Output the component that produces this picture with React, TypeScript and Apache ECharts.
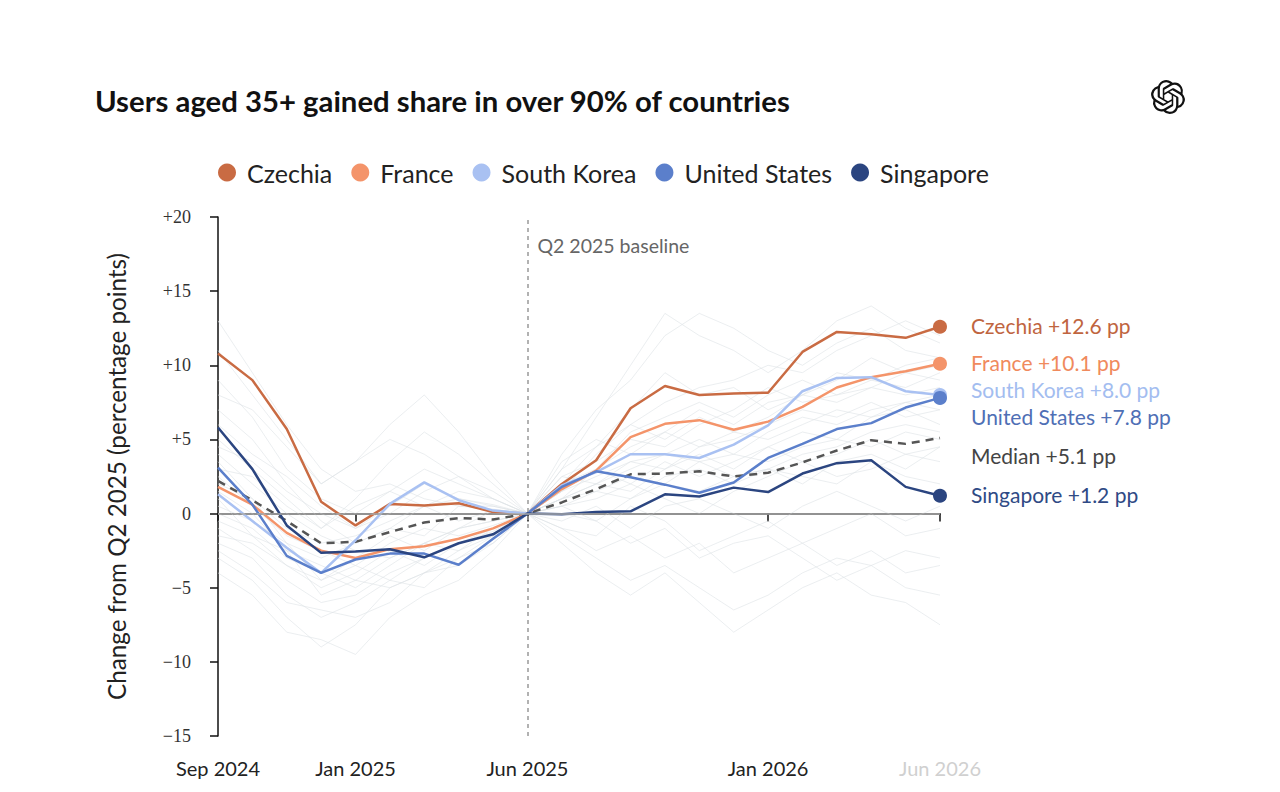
import { useEffect, useRef } from 'react';
import * as echarts from 'echarts';

const months = [
  'Sep 2024', 'Oct 2024', 'Nov 2024', 'Dec 2024', 'Jan 2025', 'Feb 2025', 'Mar 2025', 'Apr 2025',
  'May 2025', 'Jun 2025', 'Jul 2025', 'Aug 2025', 'Sep 2025', 'Oct 2025', 'Nov 2025', 'Dec 2025',
  'Jan 2026', 'Feb 2026', 'Mar 2026', 'Apr 2026', 'May 2026', 'Jun 2026',
];
const shownMonths = ['Sep 2024', 'Jan 2025', 'Jun 2025', 'Jan 2026', 'Jun 2026'];
const baselineMonth = 'Jun 2025';

const czechia = [10.8, 9.0, 5.7, 0.8, -0.8, 0.65, 0.55, 0.7, 0.1, 0, 2.0, 3.6, 7.1, 8.6, 8.0, 8.1, 8.15, 10.9, 12.25, 12.1, 11.85, 12.6];
const france = [1.8, 0.6, -1.3, -2.5, -3.0, -2.4, -2.2, -1.7, -1.0, 0, 1.65, 2.9, 5.15, 6.05, 6.3, 5.65, 6.2, 7.2, 8.5, 9.2, 9.6, 10.1];
const southKorea = [1.3, -0.5, -2.3, -4.0, -1.8, 0.65, 2.1, 0.9, 0.2, 0, 1.9, 2.8, 4.0, 4.0, 3.75, 4.65, 5.95, 8.25, 9.15, 9.2, 8.25, 8.0];
const unitedStates = [3.1, 0.6, -2.85, -4.0, -3.1, -2.7, -2.7, -3.45, -1.7, 0, 1.8, 2.85, 2.45, 1.95, 1.4, 2.1, 3.75, 4.7, 5.7, 6.1, 7.15, 7.8];
const singapore = [5.8, 3.0, -0.8, -2.65, -2.55, -2.4, -2.95, -2.0, -1.4, 0, -0.05, 0.1, 0.15, 1.3, 1.15, 1.75, 1.45, 2.7, 3.4, 3.6, 1.8, 1.2];
const median = [2.2, 0.9, -0.5, -2.0, -1.9, -1.25, -0.6, -0.3, -0.4, 0, 0.75, 1.65, 2.65, 2.7, 2.85, 2.5, 2.75, 3.45, 4.25, 4.95, 4.7, 5.1];

const otherCountries = [
  [13.0, 9.5, 6.0, 3.0, 1.5, 2.0, 1.0, 0.5, 0.3, 0, 3.0, 6.5, 10.0, 13.5, 12.0, 11.0, 9.5, 11.0, 13.0, 14.0, 12.5, 11.5],
  [8.0, 7.0, 4.5, 2.0, 3.5, 5.0, 4.0, 2.5, 1.0, 0, 1.5, 4.0, 6.0, 7.5, 8.5, 9.0, 10.0, 9.5, 11.0, 12.0, 13.0, 12.0],
  [5.0, 3.0, 1.0, -1.0, 1.0, 3.5, 5.5, 4.0, 2.0, 0, 2.5, 3.5, 5.0, 4.5, 6.0, 7.0, 8.5, 7.5, 8.0, 9.0, 8.5, 9.5],
  [3.5, 1.0, -2.0, -4.5, -3.0, -1.5, -2.5, -1.0, -0.5, 0, 1.0, 2.0, 1.5, 3.0, 4.0, 3.0, 4.5, 5.5, 5.0, 6.5, 7.0, 6.0],
  [-1.0, -2.5, -4.5, -6.0, -5.5, -4.0, -3.0, -2.0, -1.0, 0, 0.5, -0.5, 1.0, 2.0, 1.5, 2.5, 3.0, 2.0, 3.5, 4.0, 3.0, 4.5],
  [1.0, -1.5, -3.5, -5.0, -4.0, -2.5, -3.5, -2.0, -1.5, 0, 1.5, 2.5, 3.5, 3.0, 4.5, 5.5, 5.0, 6.0, 7.0, 6.5, 7.5, 8.0],
  [-3.0, -4.5, -7.0, -9.0, -7.5, -5.0, -4.0, -3.5, -2.0, 0, -1.0, -2.5, -1.5, -3.0, -2.0, -4.0, -3.0, -2.0, -3.5, -2.5, -4.0, -3.5],
  [0.5, -0.5, -2.0, -3.0, -2.0, -1.0, -1.5, 0.5, 0.5, 0, -2.0, -4.0, -5.5, -4.0, -6.0, -8.0, -6.5, -5.0, -4.0, -5.5, -6.0, -7.5],
  [6.0, 4.0, 2.5, 0.5, -1.0, 0.5, 2.0, 1.0, 0.5, 0, 3.5, 5.0, 4.0, 5.5, 7.0, 6.0, 7.5, 8.0, 9.5, 9.0, 10.0, 10.5],
  [2.5, 0.5, -1.5, -2.5, -3.5, -2.0, -1.0, -1.5, -0.8, 0, 1.0, 1.5, 2.5, 2.0, 3.5, 4.0, 3.5, 4.5, 5.0, 4.5, 5.5, 5.0],
  [-2.0, -3.0, -5.5, -7.0, -6.0, -4.5, -5.0, -3.0, -1.5, 0, 0.5, 1.0, 2.0, 1.0, 0.0, 1.5, 2.5, 3.5, 2.5, 3.0, 4.0, 3.5],
  [4.0, 2.0, 0.0, -1.5, -2.5, -3.0, -2.0, -1.0, -0.5, 0, 2.0, 3.0, 4.5, 5.5, 4.5, 5.0, 6.0, 7.0, 6.5, 7.5, 6.5, 7.0],
  [9.0, 6.5, 3.0, 1.0, 0.0, 1.5, 3.0, 2.0, 1.0, 0, 2.0, 4.5, 7.0, 9.5, 8.0, 8.5, 7.0, 8.0, 9.0, 10.5, 9.5, 9.0],
  [-4.0, -5.5, -8.0, -8.5, -9.5, -7.0, -5.5, -4.5, -2.5, 0, -1.5, -3.0, -4.5, -3.5, -5.0, -6.5, -5.5, -4.0, -3.0, -3.5, -2.5, -3.0],
  [2.0, 1.0, -1.0, -2.0, -1.5, -0.5, 0.5, -0.5, 0.2, 0, 2.5, 2.0, 3.0, 4.0, 3.5, 2.5, 3.0, 4.0, 4.5, 5.5, 6.0, 5.5],
  [0.0, -1.0, -3.0, -4.0, -5.0, -3.5, -2.0, -2.5, -1.0, 0, 1.0, 3.0, 2.0, 3.5, 2.5, 3.5, 4.5, 3.5, 4.0, 5.0, 4.0, 4.5],
  [7.0, 5.0, 2.0, -0.5, -2.0, -1.0, 0.5, 1.5, 1.0, 0, 1.5, 3.0, 5.5, 6.5, 7.5, 6.5, 8.0, 9.0, 8.0, 8.5, 9.5, 10.0],
  [-1.5, -2.0, -3.5, -4.5, -3.5, -4.5, -3.0, -2.0, -1.2, 0, -0.5, 0.5, -1.0, 0.5, 1.0, 0.0, -1.0, 0.5, 1.5, 0.5, -0.5, 0.5],
  [3.0, 2.5, 0.5, -1.0, 0.5, 1.5, 0.5, 1.0, 0.6, 0, 3.0, 4.5, 6.0, 5.0, 6.5, 5.5, 6.5, 8.0, 7.5, 8.5, 8.0, 8.5],
  [1.5, 0.0, -2.5, -3.5, -4.5, -5.0, -4.0, -2.5, -1.5, 0, 0.5, 1.5, 1.0, 2.5, 3.0, 2.0, 3.0, 2.5, 2.0, 3.5, 2.5, 2.0],
  [-0.5, -1.5, -2.5, -5.5, -4.5, -3.0, -2.0, -1.0, 0.2, 0, -1.0, -1.5, 0.5, -0.5, -2.5, -1.5, -0.5, -2.0, -1.0, 0.0, -1.5, -1.0],
  [11.0, 8.0, 5.0, 2.0, 3.5, 6.0, 8.0, 5.5, 2.5, 0, 4.0, 7.0, 9.0, 12.0, 13.5, 12.5, 11.0, 10.0, 11.5, 12.5, 11.0, 10.5],
  [4.5, 3.5, 1.5, 0.0, -1.0, 0.0, 1.5, 2.5, 1.5, 0, 1.0, 2.0, 3.5, 4.0, 5.0, 4.0, 5.5, 6.5, 6.0, 7.0, 7.5, 7.0],
  [-2.5, -4.0, -6.0, -6.5, -7.0, -6.0, -4.0, -3.0, -2.0, 0, 0.0, -0.5, -2.0, -1.0, -3.0, -2.0, -1.5, -3.0, -4.5, -3.5, -5.0, -5.5],
];

const highlighted = [
  { name: 'Czechia', data: czechia, color: '#c96b43', labelColor: '#c0653f', dy: -1 },
  { name: 'France', data: france, color: '#f4946a', labelColor: '#f08a5d', dy: -1 },
  { name: 'South Korea', data: southKorea, color: '#a9c1f2', labelColor: '#a3bdf0', dy: -5 },
  { name: 'United States', data: unitedStates, color: '#5b7fcb', labelColor: '#4f6fb5', dy: 19 },
  { name: 'Singapore', data: singapore, color: '#2b4580', labelColor: '#2f4a85', dy: -1 },
];

const LOGO_PATH =
  'M22.2819 9.8211a5.9847 5.9847 0 0 0-.5157-4.9108 6.0462 6.0462 0 0 0-6.5098-2.9A6.0651 6.0651 0 0 0 4.9807 4.1818a5.9847 5.9847 0 0 0-3.9977 2.9 6.0462 6.0462 0 0 0 .7427 7.0966 5.98 5.98 0 0 0 .511 4.9107 6.051 6.051 0 0 0 6.5146 2.9001A5.9847 5.9847 0 0 0 13.2599 24a6.0557 6.0557 0 0 0 5.7718-4.2058 5.9894 5.9894 0 0 0 3.9977-2.9001 6.0557 6.0557 0 0 0-.7475-7.0729zm-9.022 12.6081a4.4755 4.4755 0 0 1-2.8764-1.0408l.1419-.0804 4.7783-2.7582a.7948.7948 0 0 0 .3927-.6813v-6.7369l2.02 1.1686a.071.071 0 0 1 .038.052v5.5826a4.504 4.504 0 0 1-4.4945 4.4944zm-9.6607-4.1254a4.4708 4.4708 0 0 1-.5346-3.0137l.142.0852 4.783 2.7582a.7712.7712 0 0 0 .7806 0l5.8428-3.3685v2.3324a.0804.0804 0 0 1-.0332.0615L9.74 19.9502a4.4992 4.4992 0 0 1-6.1408-1.6464zM2.3408 7.8956a4.485 4.485 0 0 1 2.3655-1.9728V11.6a.7664.7664 0 0 0 .3879.6765l5.8144 3.3543-2.0201 1.1685a.0757.0757 0 0 1-.071 0l-4.8303-2.7865A4.504 4.504 0 0 1 2.3408 7.872zm16.5963 3.8558L13.1038 8.364 15.1192 7.2a.0757.0757 0 0 1 .071 0l4.8303 2.7913a4.4944 4.4944 0 0 1-.6765 8.1042v-5.6772a.79.79 0 0 0-.407-.667zm2.0107-3.0231l-.142-.0852-4.7735-2.7818a.7759.7759 0 0 0-.7854 0L9.409 9.2297V6.8974a.0662.0662 0 0 1 .0284-.0615l4.8303-2.7866a4.4992 4.4992 0 0 1 6.6802 4.66zM8.3065 12.863l-2.02-1.1638a.0804.0804 0 0 1-.038-.0567V6.0742a4.4992 4.4992 0 0 1 7.3757-3.4537l-.142.0805L8.704 5.459a.7948.7948 0 0 0-.3927.6813zm1.0976-2.3654l2.602-1.4998 2.6069 1.4998v2.9994l-2.5974 1.4997-2.6067-1.4997Z';

const FONT = 'Lato';

export default function App() {
  const ref = useRef<HTMLDivElement>(null);

  useEffect(() => {
    document.body.style.margin = '0';
    echarts.graphic.registerShape('logo', echarts.graphic.extendPath(LOGO_PATH, {}) as any);
    const chart = echarts.init(ref.current!, null, { renderer: 'svg' });
    const last = months.length - 1;

    const series: any[] = [];
    otherCountries.forEach((d, i) => {
      series.push({
        name: 'other' + i,
        type: 'line',
        data: d,
        symbol: 'none',
        silent: true,
        z: 1,
        lineStyle: { color: '#dde2e6', width: 1, opacity: 0.6 },
      });
    });
    series.push({
      name: 'Median',
      type: 'line',
      data: median,
      symbol: 'none',
      silent: true,
      z: 2,
      lineStyle: { color: '#555555', width: 2.5, type: [8, 6] },
      markLine: {
        silent: true,
        symbol: 'none',
        label: { show: false },
        data: [
          { xAxis: baselineMonth, lineStyle: { color: '#999999', width: 1.5, type: [4, 4] } },
          { yAxis: 0, lineStyle: { color: '#aaaaaa', width: 1.5, type: 'solid' } },
        ],
      },
    });
    highlighted.forEach((h) => {
      series.push({
        name: h.name,
        type: 'line',
        data: h.data,
        symbol: 'circle',
        showSymbol: true,
        showAllSymbol: true,
        symbolSize: (_v: any, p: any) => (p.dataIndex === last ? 14 : 0),
        itemStyle: { color: h.color },
        lineStyle: { color: h.color, width: 2.5 },
        silent: true,
        z: 3,
      });
    });

    chart.setOption({
      animation: false,
      backgroundColor: '#ffffff',
      title: {
        text: 'Users aged 35+ gained share in over 90% of countries',
        left: 90,
        top: 81,
        textStyle: { fontFamily: FONT, fontWeight: 'bold', fontSize: 29.3, color: '#111111' },
      },
      legend: {
        data: highlighted.map((h) => h.name),
        left: 213,
        top: 155,
        icon: 'circle',
        itemWidth: 30,
        itemHeight: 18,
        itemGap: 19,
        textStyle: { fontFamily: FONT, fontSize: 25, color: '#222222' },
      },
      grid: { left: 218, right: 340, top: 217, bottom: 56 },
      xAxis: {
        type: 'category',
        data: months,
        boundaryGap: false,
        axisLine: { lineStyle: { color: '#111111', width: 1.5 } },
        axisTick: {
          show: true,
          length: 8,
          interval: (_i: number, v: string) => shownMonths.includes(v),
          lineStyle: { color: '#111111', width: 1.5 },
        },
        axisLabel: {
          interval: (_i: number, v: string) => shownMonths.includes(v),
          margin: 22,
          fontFamily: FONT,
          fontSize: 20,
          color: '#222222',
          formatter: (v: string) => (v === months[last] ? '{faint|' + v + '}' : v),
          rich: { faint: { fontFamily: FONT, fontSize: 20, color: '#d0d0d0' } },
        },
        splitLine: { show: false },
      },
      yAxis: {
        type: 'value',
        min: -15,
        max: 20,
        interval: 5,
        name: 'Change from Q2 2025 (percentage points)',
        nameLocation: 'middle',
        nameGap: 90,
        nameTextStyle: { fontFamily: FONT, fontSize: 24.2, color: '#222222' },
        axisLine: { show: true, lineStyle: { color: '#111111', width: 1.5 } },
        axisTick: { show: true, length: 8, lineStyle: { color: '#111111', width: 1.5 } },
        axisLabel: {
          margin: 27,
          fontFamily: 'Liberation Serif',
          fontSize: 18,
          color: '#333333',
          formatter: (v: number) => (v > 0 ? '+' + v : v < 0 ? '\u2212' + Math.abs(v) : '0'),
        },
        splitLine: { show: false },
      },
      series,
    });

    const graphics: any[] = [];
    highlighted.forEach((h) => {
      const [px, py] = chart.convertToPixel({ gridIndex: 0 }, [last, h.data[last]]) as number[];
      const val = h.data[last];
      graphics.push({
        type: 'text',
        x: px + 31,
        y: py + h.dy,
        silent: true,
        style: {
          text: h.name + ' ' + (val >= 0 ? '+' : '\u2212') + Math.abs(val).toFixed(1) + ' pp',
          fill: h.labelColor,
          font: '21px ' + FONT,
          textVerticalAlign: 'middle',
        },
      });
    });
    {
      const [px, py] = chart.convertToPixel({ gridIndex: 0 }, [last, median[last]]) as number[];
      graphics.push({
        type: 'text',
        x: px + 31,
        y: py + 18,
        silent: true,
        style: {
          text: 'Median +' + median[last].toFixed(1) + ' pp',
          fill: '#444444',
          font: '21px ' + FONT,
          textVerticalAlign: 'middle',
        },
      });
    }
    {
      const [bx, by] = chart.convertToPixel({ gridIndex: 0 }, [baselineMonth, 20]) as number[];
      graphics.push({
        type: 'text',
        x: bx + 10,
        y: by + 28,
        silent: true,
        style: {
          text: 'Q2 2025 baseline',
          fill: '#666666',
          font: '19.5px ' + FONT,
          textVerticalAlign: 'middle',
        },
      });
    }
    graphics.push({
      type: 'logo',
      x: 1151,
      y: 80,
      scaleX: 34 / 24,
      scaleY: 34 / 24,
      silent: true,
      style: { fill: '#111111' },
    });

    chart.setOption({ graphic: graphics });

    return () => chart.dispose();
  }, []);

  return <div ref={ref} style={{ width: 1280, height: 792 }} />;
}
